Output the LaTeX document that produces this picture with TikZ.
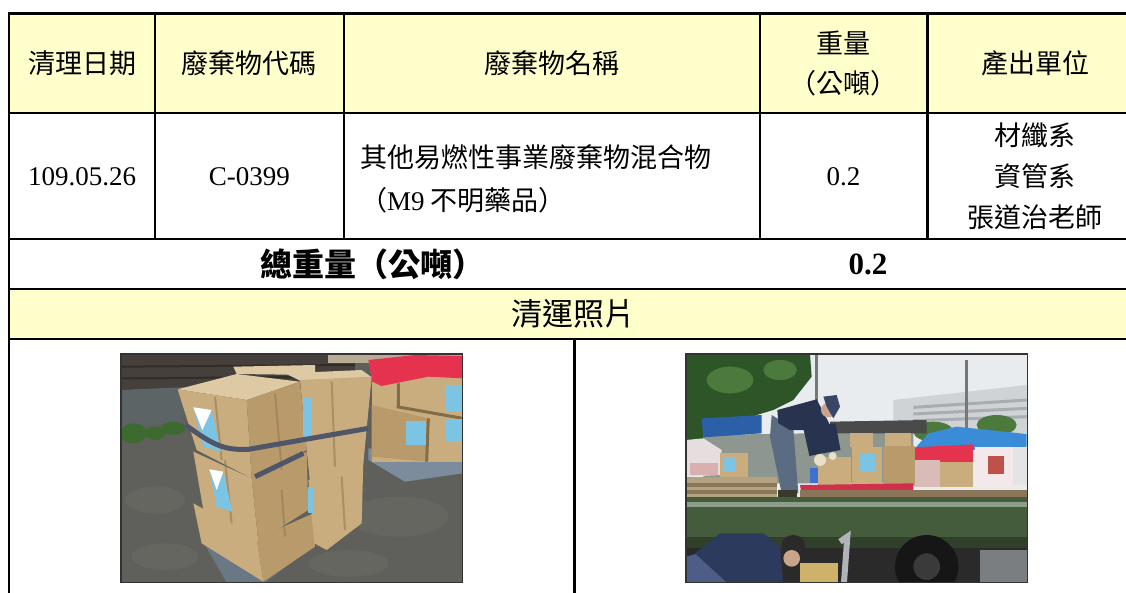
\documentclass[tikz,border=0pt]{standalone}
\usepackage{fontspec}
\setmainfont{Liberation Serif}
\newfontfamily\cjk{Noto Sans CJK TC}
\definecolor{hdrY}{HTML}{FFFFCC}
\definecolor{gnd}{HTML}{5F605C}
\definecolor{gndL}{HTML}{77766F}
\definecolor{wallc}{HTML}{45403C}
\definecolor{walk}{HTML}{5C6466}
\definecolor{plant}{HTML}{3D6A2E}
\definecolor{cartc}{HTML}{7D8C9C}
\definecolor{boxA}{HTML}{C9AD7E}
\definecolor{boxB}{HTML}{B99A6A}
\definecolor{boxT}{HTML}{DDC9A3}
\definecolor{lbl}{HTML}{7CC4E4}
\definecolor{redbag}{HTML}{E5334F}
\definecolor{strapc}{HTML}{50566A}
\definecolor{sky}{HTML}{E9ECEE}
\definecolor{bldg}{HTML}{CFD3D6}
\definecolor{bldgL}{HTML}{A8ADB2}
\definecolor{treeD}{HTML}{2E5528}
\definecolor{treeL}{HTML}{4B7A3C}
\definecolor{polec}{HTML}{777777}
\definecolor{signc}{HTML}{2B5FA8}
\definecolor{wallb}{HTML}{8E9690}
\definecolor{roofc}{HTML}{4A4A4A}
\definecolor{bagW}{HTML}{E6DEDE}
\definecolor{bagP}{HTML}{D8B0B0}
\definecolor{palletc}{HTML}{B3A27F}
\definecolor{palletD}{HTML}{8A7558}
\definecolor{tarp}{HTML}{3A8CD6}
\definecolor{pinkb}{HTML}{D9BCB8}
\definecolor{jug}{HTML}{F3E9EA}
\definecolor{jugB}{HTML}{E4E4E6}
\definecolor{jugl}{HTML}{C0504A}
\definecolor{bluec}{HTML}{3F6FD0}
\definecolor{cloth}{HTML}{D0304A}
\definecolor{bedc}{HTML}{445C3C}
\definecolor{rimc}{HTML}{8E9C8A}
\definecolor{underc}{HTML}{2A2A2A}
\definecolor{wheelc}{HTML}{161616}
\definecolor{hubc}{HTML}{3A3A3A}
\definecolor{pave}{HTML}{7A7E80}
\definecolor{jeans}{HTML}{5B6B82}
\definecolor{shoe}{HTML}{3A3A2A}
\definecolor{shirt}{HTML}{27334F}
\definecolor{glove}{HTML}{E8E0C8}
\definecolor{skin}{HTML}{C9A48A}
\definecolor{capc}{HTML}{3A4666}
\definecolor{jeansB}{HTML}{4D5D85}
\definecolor{shirtB}{HTML}{2C3A5E}
\definecolor{hair}{HTML}{2A2A2A}
\definecolor{ybox}{HTML}{CFB26A}
\definecolor{handle}{HTML}{B0B4B8}
\begin{document}
\begin{tikzpicture}[x=1pt,y=-1pt,
  gridline/.style={line width=2.2pt,black},
  hd/.style={font=\cjk\fontsize{27}{40}\selectfont,inner sep=0pt,align=center},
  lt/.style={font=\fontsize{27}{32}\selectfont,inner sep=0pt},
  tb/.style={font=\cjk\bfseries\fontsize{32}{34}\selectfont,inner sep=0pt},
  tbl/.style={font=\bfseries\fontsize{31}{34}\selectfont,inner sep=0pt},
  photoframe/.style={draw=black!80,line width=1.2pt}]
\useasboundingbox (0,0) rectangle (1126,592);
\fill[white] (0,0) rectangle (1126,592);
% yellow rows
\fill[fill=hdrY] (9,13.5) rectangle (1145,112.7);
\fill[fill=hdrY] (9,288.7) rectangle (1145,339);

% ---------------- photo 1 ----------------
\begin{scope}[shift={(115,350)},scale=1/3]
 \begin{scope}
  \clip (18,12) rectangle (1043,697);
  \fill[fill=gnd] (18,12) rectangle (1043,697);
  \fill[fill=gndL,opacity=.3] (120,450) ellipse (90 and 40);
  \fill[fill=gndL,opacity=.3] (850,500) ellipse (150 and 60);
  \fill[fill=gndL,opacity=.3] (700,640) ellipse (120 and 40);
  \fill[fill=gndL,opacity=.3] (150,620) ellipse (100 and 40);
  \fill[fill=wallc] (18,12) rectangle (720,120);
  \draw[wallc!70!black,line width=2] (18,50) -- (720,45) (18,85) -- (720,80);
  \fill[fill=boxT!60!gray] (640,12) rectangle (1043,40);
  \fill[fill=walk] (18,120) -- (240,110) -- (200,215) -- (18,235) -- cycle;
  \fill[fill=plant] (55,250) ellipse (40 and 30);
  \fill[fill=plant] (120,250) ellipse (30 and 20);
  \fill[fill=plant] (175,235) ellipse (35 and 20);
  % right cart and boxes
  \fill[fill=cartc] (760,295) -- (1043,320) -- (1043,370) -- (870,395) -- (760,330) -- cycle;
  \fill[fill=boxA] (770,40) rectangle (1043,335);
  \fill[fill=boxB] (770,165) -- (940,205) -- (935,335) -- (770,320) -- cycle;
  \draw[boxB!70!black,line width=3] (850,100) -- (850,170) (940,205) -- (935,335) (845,170) -- (1043,205);
  \fill[fill=redbag] (760,30) -- (900,15) -- (1043,18) -- (1043,85) -- (940,80) -- (800,108) -- (772,95) -- cycle;
  \fill[fill=lbl] (990,105) rectangle (1040,185);
  \fill[fill=lbl] (872,212) rectangle (932,285);
  \fill[fill=lbl] (990,207) rectangle (1040,275);
  % left cart
  \fill[fill=cartc!85!black] (255,560) -- (300,560) -- (600,585) -- (450,697) -- (335,697) -- cycle;
  % bottom box
  \fill[fill=boxA] (235,460) -- (425,565) -- (445,695) -- (260,580) -- cycle;
  \fill[fill=boxB] (425,565) -- (595,490) -- (600,590) -- (445,695) -- cycle;
  % middle box
  \fill[fill=boxA] (235,305) -- (410,385) -- (430,575) -- (265,480) -- cycle;
  \fill[fill=boxB] (410,385) -- (575,305) -- (580,480) -- (430,575) -- cycle;
  % right lower box
  \fill[fill=boxA] (580,390) -- (745,335) -- (740,520) -- (635,600) -- (598,580) -- cycle;
  % right tall box
  \fill[fill=boxT] (510,70) -- (740,60) -- (770,82) -- (555,92) -- cycle;
  \fill[fill=boxA] (555,90) -- (770,80) -- (745,340) -- (585,395) -- (575,300) -- cycle;
  % top small box
  \fill[fill=boxT] (355,50) -- (600,45) -- (600,75) -- (365,72) -- cycle;
  % top-left box
  \fill[fill=boxT] (188,118) -- (365,72) -- (555,95) -- (395,150) -- cycle;
  \fill[fill=boxA] (188,118) -- (395,150) -- (410,385) -- (245,300) -- cycle;
  \fill[fill=boxB] (395,150) -- (555,95) -- (575,300) -- (410,385) -- cycle;
  % tape marks
  \draw[boxB!80!black,line width=2,opacity=.6] (300,140) -- (320,330) (480,130) -- (500,360) (650,95) -- (660,350) (330,330) -- (350,520) (500,420) -- (510,560) (680,380) -- (690,540);
  % labels
  \fill[fill=lbl] (235,172) -- (290,180) -- (318,305) -- (265,290) -- cycle;
  \fill[fill=white] (235,172) -- (290,180) -- (262,240) -- cycle;
  \fill[fill=lbl] (283,358) -- (325,365) -- (352,485) -- (305,470) -- cycle;
  \fill[fill=white] (283,358) -- (325,365) -- (305,420) -- cycle;
  \fill[fill=lbl] (565,145) rectangle (590,270);
  \fill[fill=lbl] (578,410) rectangle (595,490);
  % strap
  \draw[strapc,line width=5] (212,225) .. controls (300,290) and (330,300) .. (400,298) -- (760,235);
  \draw[strapc,line width=5] (420,380) -- (565,310);
 \end{scope}
 \draw[photoframe] (18,12) rectangle (1043,697);
\end{scope}

% ---------------- photo 2 ----------------
\begin{scope}[shift={(680,350)},scale=1/3]
 \begin{scope}
  \clip (18,12) rectangle (1043,697);
  \fill[fill=sky] (18,12) rectangle (1043,697);
  \fill[fill=bldg] (640,150) -- (1040,105) -- (1040,250) -- (640,250) -- cycle;
  \draw[bldgL,line width=3] (700,172) -- (1040,150) (700,192) -- (1040,175) (700,212) -- (1040,200);
  \fill[fill=treeL] (760,245) ellipse (60 and 30);
  \fill[fill=treeL] (950,225) ellipse (60 and 30);
  \fill[fill=polec] (404,12) rectangle (414,240);
  \fill[fill=polec] (855,30) rectangle (865,235);
  \fill[fill=treeD] (18,12) -- (390,12) -- (395,80) -- (340,150) -- (280,180) -- (230,195) -- (120,270) -- (18,290) -- cycle;
  \fill[fill=treeL] (150,90) ellipse (70 and 40);
  \fill[fill=treeL] (300,60) ellipse (50 and 30);
  \fill[fill=wallb] (70,255) -- (700,245) -- (700,400) -- (70,400) -- cycle;
  \fill[fill=roofc] (450,215) -- (740,210) -- (740,250) -- (450,250) -- cycle;
  \fill[fill=signc] (65,205) -- (245,195) -- (245,250) -- (70,262) -- cycle;
  \fill[fill=bagW] (18,270) -- (70,265) -- (125,300) -- (120,375) -- (18,380) -- cycle;
  \fill[fill=bagP] (30,340) rectangle (115,375);
  \fill[fill=boxA] (120,310) rectangle (205,385);
  \fill[fill=lbl] (130,320) rectangle (165,365);
  \fill[fill=palletc] (18,380) rectangle (290,440);
  \draw[palletD,line width=4] (18,405) -- (290,405) (18,425) -- (290,425);
  \fill[fill=tarp] (705,295) -- (745,250) -- (830,230) -- (1040,252) -- (1040,290) -- (900,300) -- cycle;
  \fill[fill=redbag] (705,292) -- (880,283) -- (878,345) -- (705,345) -- cycle;
  \fill[fill=pinkb] (705,330) rectangle (780,410);
  \fill[fill=boxA] (780,335) rectangle (880,410);
  \fill[fill=jug] (885,290) rectangle (1000,410);
  \fill[fill=jugB] (1000,290) rectangle (1040,405);
  \fill[fill=jugl] (925,318) rectangle (972,372);
  \fill[fill=boxA] (510,250) rectangle (580,292);
  \fill[fill=boxA] (615,248) rectangle (692,288);
  \fill[fill=boxA] (415,322) rectangle (512,408);
  \fill[fill=boxA] (515,290) rectangle (607,408);
  \fill[fill=lbl] (540,312) rectangle (585,362);
  \fill[fill=boxB] (610,288) rectangle (705,408);
  \fill[fill=bluec] (390,355) rectangle (415,400);
  \fill[fill=cloth] (360,405) -- (700,400) -- (700,420) -- (365,435) -- cycle;
  \fill[fill=palletD] (360,420) rectangle (1040,445);
  \fill[fill=bedc] (18,440) rectangle (1043,595);
  \fill[fill=rimc] (18,455) rectangle (1043,470);
  \fill[fill=bedc!70!black] (18,560) rectangle (1043,595);
  \fill[fill=underc] (18,595) rectangle (1043,697);
  \fill[fill=pave] (900,600) rectangle (1043,697);
  \fill[fill=wheelc] (740,650) circle (95);
  \fill[fill=hubc] (740,650) circle (40);
  % man standing
  \fill[fill=jeans] (275,195) -- (340,235) -- (355,430) -- (305,430) -- (270,260) -- cycle;
  \fill[fill=shoe] (295,420) rectangle (350,440);
  \fill[fill=shirt] (292,180) -- (410,148) -- (450,225) -- (400,240) -- (330,240) -- (295,220) -- cycle;
  \draw[shirt,line width=25] (405,220) -- (425,310);
  \draw[shirt,line width=18] (440,225) -- (455,305);
  \fill[fill=glove] (420,330) circle (18);
  \fill[fill=glove] (458,318) circle (12);
  \fill[fill=skin] (445,180) circle (22);
  \fill[fill=capc] (430,140) -- (470,135) -- (480,170) -- (460,205) -- (440,170) -- cycle;
  % man crouching
  \fill[fill=jeansB] (18,620) -- (90,600) -- (150,697) -- (18,697) -- cycle;
  \fill[fill=shirtB] (45,610) -- (120,550) -- (250,550) -- (300,590) -- (310,697) -- (140,697) -- cycle;
  \fill[fill=hair] (340,585) ellipse (35 and 30);
  \fill[fill=skin] (335,625) ellipse (25 and 25);
  \fill[fill=ybox] (360,640) rectangle (475,697);
  \draw[handle,line width=6] (480,575) -- (502,560) -- (492,697);
 \end{scope}
 \draw[photoframe] (18,12) rectangle (1043,697);
\end{scope}

% ---------------- grid ----------------
\draw[gridline] (9,600) -- (9,13.5) -- (1145,13.5);
\draw[gridline] (9,112.7) -- (1145,112.7);
\draw[gridline] (9,238.7) -- (1145,238.7);
\draw[gridline] (9,288.7) -- (1145,288.7);
\draw[gridline] (9,339) -- (1145,339);
\foreach \cx in {155,343.6,759.6,927.5} \draw[gridline] (\cx,13.5) -- (\cx,238.7);
\draw[gridline] (574.5,339) -- (574.5,600);

% ---------------- texts ----------------
\node[hd] (h1) at (82,63) {清理日期};
\node[hd] (h2) at (249.3,63) {廢棄物代碼};
\node[hd] (h3) at (551.6,63) {廢棄物名稱};
\node[hd] (h4) at (843.5,64) {重量\\（公噸）};
\node[hd] (h5) at (1035,63) {產出單位};
\node[lt] (d1) at (82,177) {109.05.26};
\node[lt] (d2) at (249.3,177) {C-0399};
\node[hd,anchor=west,align=left,font=\cjk\fontsize{27}{43}\selectfont] (d3) at (360,178.5) {其他易燃性事業廢棄物混合物\\（{\rmfamily M9} 不明藥品）};
\node[lt] (d4) at (843.5,177) {0.2};
\node[hd,font=\cjk\fontsize{27}{41}\selectfont] (d5) at (1035,176) {材纖系\\資管系\\張道治老師};
\node[tb] (t1) at (372,264) {總重量（公噸）};
\node[tbl] (t2) at (868,264) {0.2};
\node[hd,font=\cjk\fontsize{31}{34}\selectfont] (p0) at (573,314) {清運照片};
\end{tikzpicture}
\end{document}
